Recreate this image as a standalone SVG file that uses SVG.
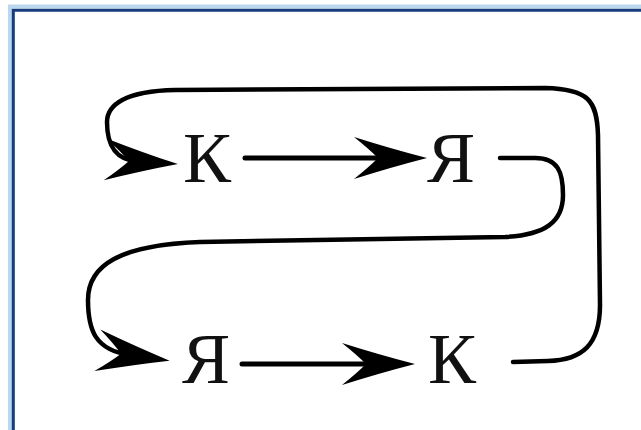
<svg xmlns="http://www.w3.org/2000/svg" width="641" height="430" viewBox="0 0 641 430">
<style>
.lbl{font-family:"Liberation Serif","Times New Roman",serif;font-size:72px;fill:#111;}
.edge{fill:none;stroke:#000;stroke-width:4.5;stroke-linecap:round;marker-end:url(#ah);}
.straight{stroke-width:5;}
</style>
<defs>
<marker id="ah" markerUnits="userSpaceOnUse" markerWidth="90" markerHeight="60" viewBox="-80 -30 90 60" refX="-40" refY="0" orient="auto" overflow="visible">
<path d="M0 0 Q-35 -9 -73 -21 Q-58 -9 -49 0 Q-58 9 -73 21 Q-35 9 0 0 Z" fill="#000"/>
</marker>
</defs>
<rect x="0" y="0" width="641" height="430" fill="#fff"/>
<g id="frame" fill="none">
<path d="M10 430 V6.5 H641" stroke="#b9d7ee" stroke-width="4"/>
<path d="M13.3 430 V10.3 H641" stroke="#163c7c" stroke-width="3"/>
</g>
<g id="connectors">
<path class="edge straight" d="M245 158 L387 158"/>
<path class="edge straight" d="M242 364 L375 364"/>
<path class="edge" d="M500 158 L535 158 C558 158 563 172 563 195 C563 222 545 235 505 237 L200 242 C120 245 88 265 88 300 C88 330 95 350 130 355"/>
<path class="edge" d="M513 362 L548 361 C582 360 600 345 600 305 L598 135 C597 100 588 89 545 88 L175 90 C125 91 107 105 107 122 C107 145 115 160 138 161.5"/>
</g>
<g id="node-K-top"><text class="lbl" x="183" y="182">К</text></g>
<g id="node-Ya-top"><text class="lbl" x="427" y="182">Я</text></g>
<g id="node-Ya-bottom"><text class="lbl" x="182" y="383">Я</text></g>
<g id="node-K-bottom"><text class="lbl" x="428" y="383">К</text></g>
</svg>
